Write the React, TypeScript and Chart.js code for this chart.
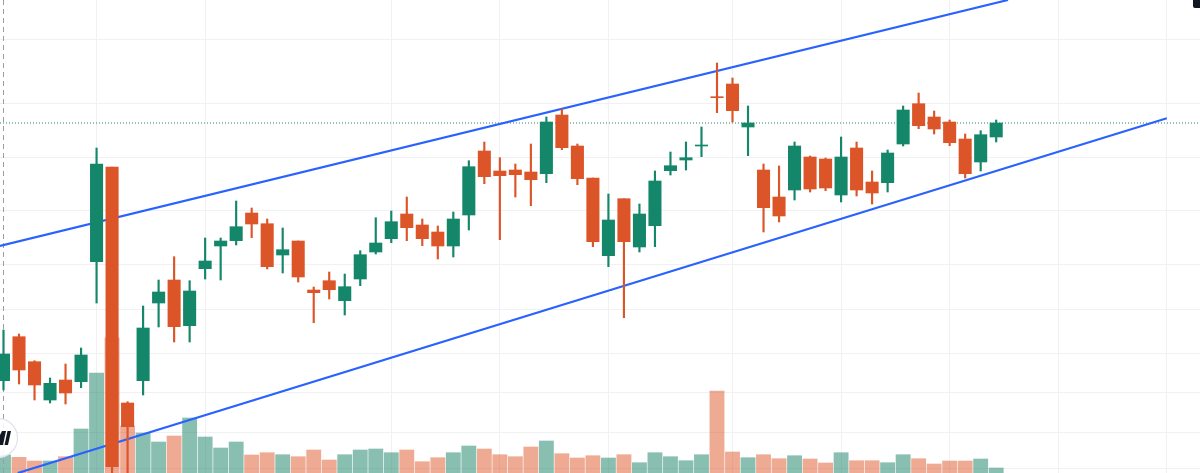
import React, { useEffect, useRef } from "react";
import { Chart, registerables } from "chart.js";

Chart.register(...registerables);

const opens = [92.3,136.3,111.3,73,93,91.3,211.3,306,70,92.3,170,193,147.3,204.3,227,232.3,260,249.3,218,232,183,192.3,172.3,194,221,234.3,259,248,241,227,258,322,302,303,301,299.3,358,327,295,217.3,274.3,226,247.3,302.3,313,327,376.3,389,346,303,276,283,316,314,278,325,291,290.3,329,369.3,356,351,334,311,336];
const closes = [119,103,88,89.7,80,118,309,6.3,46.3,145,181,146.3,182,212,232,246.3,249,206.3,223.3,196,180.3,183.3,186.3,218.3,230,251.3,245.3,234.3,227,254,306.3,296.3,297.3,298.3,293.3,351,325.3,294.3,231.3,253,231.3,259,292,307.3,315.3,328,375.3,362.3,350,265.3,257,327,284,285,316,283,280,320,363,347.3,344,330.3,299.3,338.3,350];
const highs = [143,139,112.3,95,109,125,325,306,71.3,167,193,216.3,192.3,235,235,272,265,254,245,232,186,201,199,222.3,255.3,262,276,254,247,261,312.3,331,315.3,309,329,356,364,329,295,279,274.3,269,302,321,331,346,410,395,367,309,307,331,317,315,336,331,302,323,367,380,362,353,339,342.3,353];
const lows = [83,89,73,70,69,85.3,170,-7,-7,78,146,131,131,194,193,228,235.3,204,200,191,150.3,174,158,187.3,219,230.3,232.3,227.3,214,216,243,289.3,233.3,276,267.3,290.3,323.3,288.3,226.3,206.3,155.3,221,226.3,298,303,316.3,360.3,351,317.3,241,251,273,281,282.3,271,277,269,281,327,344.3,339,327.3,295,302,331];
const volumes = [18,15.7,12,12,16.3,44,100,135,47,40,31,37,55,36,25,31,18,20.3,18.3,16.3,23,13,18.3,23,24,20.3,23,11.3,15.3,20.3,27,24,18.3,16.3,26,32,19.3,15,17.3,15,18.3,10.3,20.3,16.3,12.3,18.3,82,21,15.3,18.3,14.3,17.3,14,10,20.3,12.3,12.3,10.3,18.3,14.3,9,12,12,14,5];

const timeTicks = [6, 13, 25, 32, 39, 47, 54, 61, 68, 75];
const priceTicks = [433, 370, 316, 262, 209, 164, 120, 81, 41, 5];

const upperTrendX = [-0.23, 64.76];
const upperTrendY = [227, 473];
const lowerTrendX = [0.92, 75];
const lowerTrendY = [0, 354.7];
const cursorIndex = 0;

const GREEN = "#14866a";
const RED = "#dc5528";
const GREEN_VOL = "rgba(20,128,98,0.5)";
const RED_VOL = "rgba(221,85,40,0.5)";
const BLUE = "#2962ff";
const GRID = "#f1f1f3";

const X_MIN = -0.2257;
const X_MAX = 77.14;

const overlay = {
  id: "overlay",
  afterDraw(chart: any) {
    const c = chart.ctx;
    c.save();
    c.beginPath();
    c.arc(-2, 438, 19.5, 0, Math.PI * 2);
    c.fillStyle = "rgba(255,255,255,0.9)";
    c.fill();
    c.strokeStyle = "#e0e3eb";
    c.lineWidth = 1.2;
    c.stroke();
    c.fillStyle = "#131722";
    c.beginPath();
    c.moveTo(0, 445); c.lineTo(0, 435); c.lineTo(2, 431); c.lineTo(6, 431); c.lineTo(3, 445);
    c.closePath();
    c.fill();
    c.beginPath();
    c.moveTo(4.5, 445); c.lineTo(7.5, 431); c.lineTo(11, 431); c.lineTo(8, 445);
    c.closePath();
    c.fill();
    c.beginPath();
    c.roundRect(1193, -6, 12, 14, 2);
    c.fill();
    c.restore();
  },
};

export default function App() {
  const ref = useRef<HTMLCanvasElement>(null);
  useEffect(() => {
    const isUp = opens.map((o, i) => closes[i] >= o);
    const barBase = { grouped: false, xAxisID: "x", borderWidth: 0, borderSkipped: false };
    const chart = new Chart(ref.current!, {
      type: "bar",
      data: {
        datasets: [
          {
            ...barBase,
            label: "Volume",
            yAxisID: "vol",
            order: 5,
            barThickness: 14.2,
            data: volumes.map((v, i) => ({ x: i, y: v })),
            backgroundColor: isUp.map((u) => (u ? GREEN_VOL : RED_VOL)),
          },
          {
            type: "line",
            label: "Cursor",
            yAxisID: "y",
            order: 4,
            data: [{ x: cursorIndex, y: 0 }, { x: cursorIndex, y: 473 }],
            borderColor: "#9a9da3",
            borderWidth: 1,
            borderDash: [5, 4],
            pointRadius: 0,
          },
          {
            type: "line",
            label: "Last price",
            yAxisID: "y",
            order: 4,
            data: [{ x: X_MIN, y: closes[closes.length - 1] }, { x: X_MAX, y: closes[closes.length - 1] }],
            borderColor: "#2a7d68",
            borderWidth: 1,
            borderDash: [1, 2],
            pointRadius: 0,
          },
          {
            type: "line",
            label: "Upper channel",
            yAxisID: "y",
            order: 3,
            data: upperTrendX.map((x, i) => ({ x, y: upperTrendY[i] })),
            borderColor: BLUE,
            borderWidth: 2.2,
            pointRadius: 0,
          },
          {
            type: "line",
            label: "Lower channel",
            yAxisID: "y",
            order: 3,
            data: lowerTrendX.map((x, i) => ({ x, y: lowerTrendY[i] })),
            borderColor: BLUE,
            borderWidth: 2.2,
            pointRadius: 0,
          },
          {
            ...barBase,
            label: "Wick",
            yAxisID: "y",
            order: 2,
            barThickness: 1.5,
            data: highs.map((h, i) => ({ x: i, y: [lows[i], h] })),
            backgroundColor: isUp.map((u) => (u ? GREEN : RED)),
          },
          {
            ...barBase,
            label: "Body",
            yAxisID: "y",
            order: 1,
            barThickness: 12.4,
            data: opens.map((o, i) => ({ x: i, y: [o, closes[i]] })),
            backgroundColor: isUp.map((u) => (u ? GREEN : RED)),
          },
        ] as any,
      },
      options: {
        responsive: false,
        animation: false,
        maintainAspectRatio: false,
        events: [],
        layout: { padding: 0 },
        plugins: { legend: { display: false }, tooltip: { enabled: false }, title: { display: false } },
        scales: {
          x: {
            type: "linear",
            min: X_MIN,
            max: X_MAX,
            offset: false,
            border: { display: false },
            grid: { color: GRID, lineWidth: 1, tickLength: 0, offset: false },
            ticks: { display: false },
            afterBuildTicks: (s: any) => {
              s.ticks = timeTicks.map((value) => ({ value }));
            },
          },
          y: {
            type: "linear",
            min: 0,
            max: 473,
            border: { display: false },
            grid: { color: GRID, lineWidth: 1, tickLength: 0 },
            ticks: { display: false },
            afterBuildTicks: (s: any) => {
              s.ticks = priceTicks.map((value) => ({ value }));
            },
            afterFit: (s: any) => {
              s.width = 0;
            },
          },
          vol: {
            type: "linear",
            display: false,
            min: 0,
            max: 473,
          },
        },
      } as any,
      plugins: [overlay],
    });
    return () => chart.destroy();
  }, []);
  return (
    <div style={{ position: "fixed", left: 0, top: 0, width: 1200, height: 473, background: "#fff" }}>
      <canvas ref={ref} width={1200} height={473} style={{ display: "block" }} />
    </div>
  );
}
